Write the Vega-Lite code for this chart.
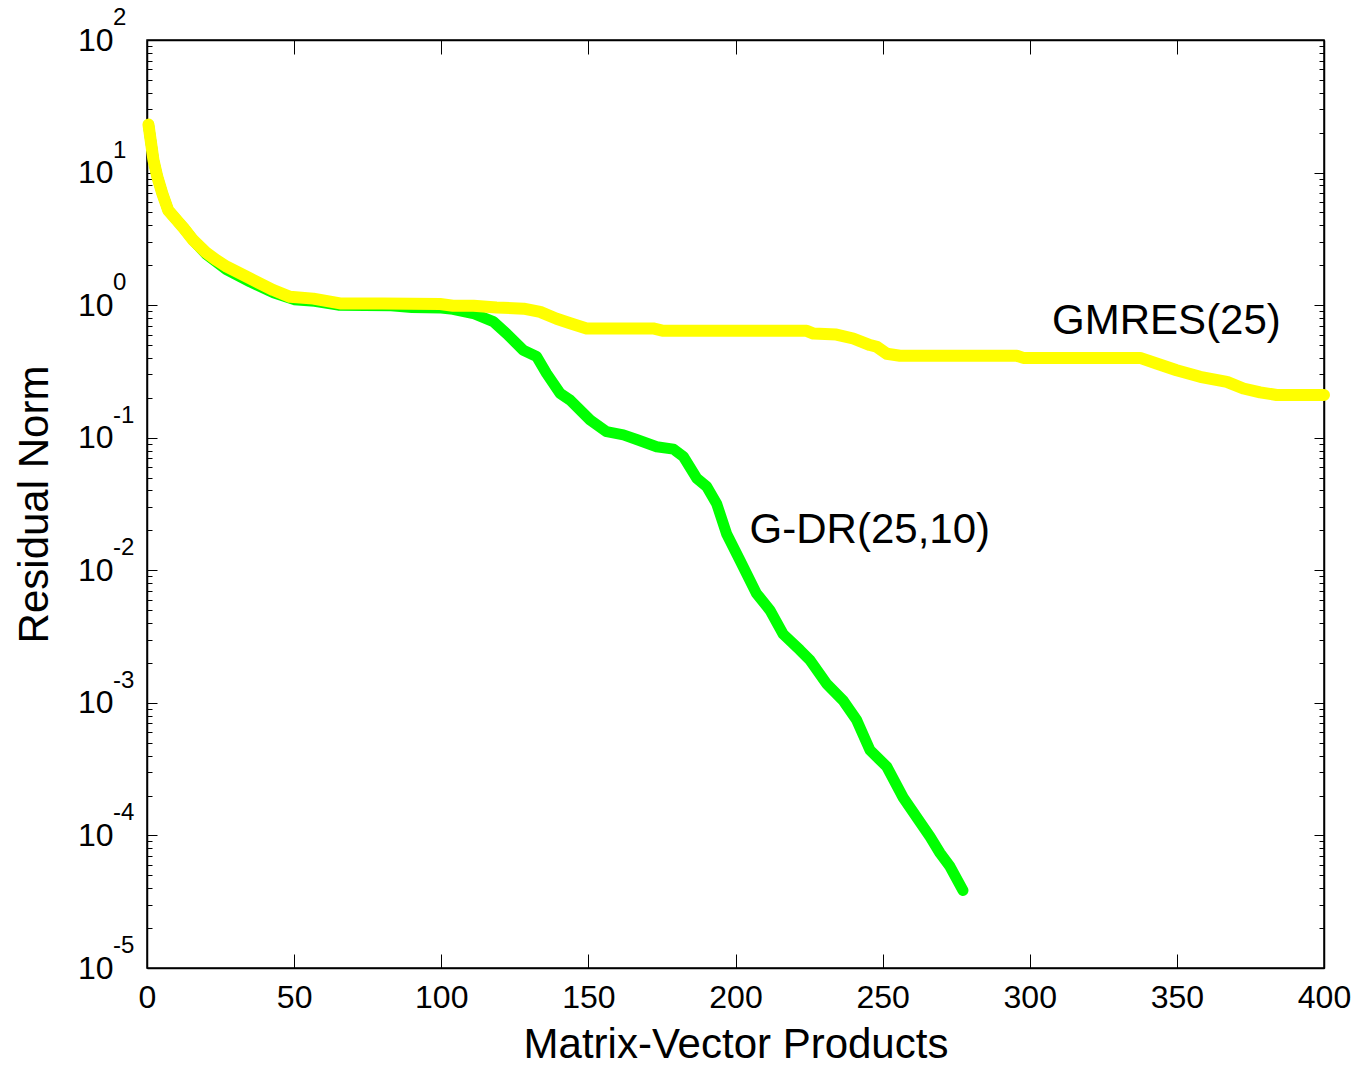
{
  "$schema": "https://vega.github.io/schema/vega-lite/v6.json",
  "width": 1177,
  "height": 928,
  "autosize": "none",
  "padding": {"left": 147, "top": 40, "right": 34, "bottom": 101},
  "background": "white",
  "config": {
    "view": {"stroke": "black", "strokeWidth": 1.5},
    "font": "Liberation Sans",
    "axis": {"grid": false, "domainColor": "black", "domainWidth": 1.5, "tickColor": "black", "tickWidth": 1, "labelColor": "black", "labelFont": "Liberation Sans", "labelFontSize": 32, "titleFont": "Liberation Sans", "titleFontSize": 42, "titleFontWeight": "normal", "titleColor": "black"}
  },
  "datasets": {
    "gmres": [
      {"mvp": 0.5, "residual": 23}, {"mvp": 1.4, "residual": 16.6}, {"mvp": 2.2, "residual": 12.4}, {"mvp": 3.5, "residual": 9.3},
      {"mvp": 5.2, "residual": 6.95}, {"mvp": 7.2, "residual": 5.2}, {"mvp": 10.1, "residual": 4.38}, {"mvp": 12.5, "residual": 3.8},
      {"mvp": 15.7, "residual": 3.09}, {"mvp": 20, "residual": 2.5}, {"mvp": 23.7, "residual": 2.18}, {"mvp": 27.1, "residual": 1.95},
      {"mvp": 35, "residual": 1.59}, {"mvp": 42.9, "residual": 1.3}, {"mvp": 48.6, "residual": 1.155}, {"mvp": 56.5, "residual": 1.12},
      {"mvp": 65.6, "residual": 1.03}, {"mvp": 80, "residual": 1.03}, {"mvp": 99.6, "residual": 1.02}, {"mvp": 104, "residual": 0.99},
      {"mvp": 111, "residual": 0.99}, {"mvp": 118.8, "residual": 0.96}, {"mvp": 128, "residual": 0.94}, {"mvp": 133.6, "residual": 0.89},
      {"mvp": 139.2, "residual": 0.79}, {"mvp": 143.8, "residual": 0.73}, {"mvp": 149.4, "residual": 0.667}, {"mvp": 172, "residual": 0.667},
      {"mvp": 175.5, "residual": 0.64}, {"mvp": 224.2, "residual": 0.64}, {"mvp": 226.5, "residual": 0.61}, {"mvp": 234.3, "residual": 0.6},
      {"mvp": 240, "residual": 0.56}, {"mvp": 245.7, "residual": 0.5}, {"mvp": 248, "residual": 0.485}, {"mvp": 251.4, "residual": 0.43},
      {"mvp": 255.9, "residual": 0.415}, {"mvp": 295.6, "residual": 0.415}, {"mvp": 297.8, "residual": 0.4}, {"mvp": 337.5, "residual": 0.4},
      {"mvp": 343.1, "residual": 0.363}, {"mvp": 349.9, "residual": 0.323}, {"mvp": 357.9, "residual": 0.288}, {"mvp": 367, "residual": 0.264},
      {"mvp": 372.6, "residual": 0.235}, {"mvp": 378.3, "residual": 0.22}, {"mvp": 383.9, "residual": 0.21}, {"mvp": 400, "residual": 0.21}
    ],
    "gdr": [
      {"mvp": 0.5, "residual": 23}, {"mvp": 1.4, "residual": 16.6}, {"mvp": 2.2, "residual": 12.4}, {"mvp": 3.5, "residual": 9.3},
      {"mvp": 5.2, "residual": 6.95}, {"mvp": 7.2, "residual": 5.2}, {"mvp": 10.1, "residual": 4.38}, {"mvp": 12.5, "residual": 3.8},
      {"mvp": 15.7, "residual": 3.09}, {"mvp": 20.3, "residual": 2.4}, {"mvp": 27, "residual": 1.85},
      {"mvp": 35, "residual": 1.5}, {"mvp": 43, "residual": 1.24}, {"mvp": 50, "residual": 1.1}, {"mvp": 57, "residual": 1.07},
      {"mvp": 65, "residual": 1.0}, {"mvp": 83, "residual": 0.99}, {"mvp": 90, "residual": 0.96}, {"mvp": 100, "residual": 0.95},
      {"mvp": 104, "residual": 0.93}, {"mvp": 110.9, "residual": 0.865}, {"mvp": 117.7, "residual": 0.75}, {"mvp": 122.2, "residual": 0.61},
      {"mvp": 127.9, "residual": 0.457}, {"mvp": 132.4, "residual": 0.41}, {"mvp": 135.8, "residual": 0.305}, {"mvp": 140.4, "residual": 0.216},
      {"mvp": 143.8, "residual": 0.192}, {"mvp": 150.6, "residual": 0.136}, {"mvp": 156.2, "residual": 0.111}, {"mvp": 161.9, "residual": 0.105},
      {"mvp": 166.4, "residual": 0.097}, {"mvp": 173.2, "residual": 0.0855}, {"mvp": 178.9, "residual": 0.082}, {"mvp": 182.3, "residual": 0.072},
      {"mvp": 186.8, "residual": 0.0495}, {"mvp": 190.2, "residual": 0.0428}, {"mvp": 193.6, "residual": 0.0318}, {"mvp": 197, "residual": 0.0188},
      {"mvp": 201.5, "residual": 0.0119}, {"mvp": 207.1, "residual": 0.0067}, {"mvp": 211.7, "residual": 0.005}, {"mvp": 216.2, "residual": 0.0033},
      {"mvp": 221.9, "residual": 0.0025}, {"mvp": 225.3, "residual": 0.0021}, {"mvp": 231, "residual": 0.00139}, {"mvp": 236.6, "residual": 0.00104},
      {"mvp": 241.2, "residual": 0.00074}, {"mvp": 245.7, "residual": 0.00044}, {"mvp": 251.4, "residual": 0.00033}, {"mvp": 257, "residual": 0.000193},
      {"mvp": 261.6, "residual": 0.000137}, {"mvp": 266.1, "residual": 0.0000978}, {"mvp": 269.5, "residual": 0.0000737}, {"mvp": 272.9, "residual": 0.0000582},
      {"mvp": 277.3, "residual": 0.0000385}
    ],
    "labels": [
      {"mvp": 307.6, "residual": 0.757, "label": "GMRES(25)"},
      {"mvp": 204.8, "residual": 0.0201, "label": "G-DR(25,10)"}
    ],
    "decades": [
      {"residual": 100, "exp": "2"}, {"residual": 10, "exp": "1"}, {"residual": 1, "exp": "0"},
      {"residual": 0.1, "exp": "-1"}, {"residual": 0.01, "exp": "-2"}, {"residual": 0.001, "exp": "-3"},
      {"residual": 0.0001, "exp": "-4"}, {"residual": 0.00001, "exp": "-5"}
    ]
  },
  "layer": [
    {
      "data": {"name": "gdr"},
      "mark": {"type": "line", "color": "#00FF00", "strokeWidth": 11, "strokeCap": "round", "strokeJoin": "round"},
      "encoding": {
        "x": {"field": "mvp", "type": "quantitative", "scale": {"domain": [0, 400], "nice": false},
          "axis": {"orient": "bottom", "values": [0, 50, 100, 150, 200, 250, 300, 350, 400], "tickSize": -14, "labelPadding": 28, "labelFlush": false, "labelBaseline": "top", "title": "Matrix-Vector Products", "titlePadding": 11}},
        "y": {"field": "residual", "type": "quantitative", "scale": {"type": "log", "domain": [0.00001, 100], "nice": false},
          "axis": {"orient": "left",
            "values": [0.00001,0.00002,0.00003,0.00004,0.00005,0.00006,0.00007,0.00008,0.00009,0.0001,0.0002,0.0003,0.0004,0.0005,0.0006,0.0007,0.0008,0.0009,0.001,0.002,0.003,0.004,0.005,0.006,0.007,0.008,0.009,0.01,0.02,0.03,0.04,0.05,0.06,0.07,0.08,0.09,0.1,0.2,0.3,0.4,0.5,0.6,0.7,0.8,0.9,1,2,3,4,5,6,7,8,9,10,20,30,40,50,60,70,80,90,100],
            "labelExpr": "abs(log(datum.value)/LN10 - round(log(datum.value)/LN10)) < 0.000001 ? '10' : ''",
            "tickSize": {"condition": {"test": "abs(log(datum.value)/LN10 - round(log(datum.value)/LN10)) < 0.000001", "value": -10}, "value": -5},
            "labelPadding": 44, "labelFlush": false, "labelOverlap": false, "labelBaseline": "middle",
            "title": "Residual Norm", "titlePadding": 21}}
      }
    },
    {
      "data": {"name": "gmres"},
      "mark": {"type": "line", "color": "#FFFF00", "strokeWidth": 12, "strokeCap": "round", "strokeJoin": "round"},
      "encoding": {
        "x": {"field": "mvp", "type": "quantitative",
          "axis": {"orient": "top", "values": [0, 50, 100, 150, 200, 250, 300, 350, 400], "tickSize": -14, "labels": false, "title": null}},
        "y": {"field": "residual", "type": "quantitative",
          "axis": {"orient": "right",
            "values": [0.00001,0.00002,0.00003,0.00004,0.00005,0.00006,0.00007,0.00008,0.00009,0.0001,0.0002,0.0003,0.0004,0.0005,0.0006,0.0007,0.0008,0.0009,0.001,0.002,0.003,0.004,0.005,0.006,0.007,0.008,0.009,0.01,0.02,0.03,0.04,0.05,0.06,0.07,0.08,0.09,0.1,0.2,0.3,0.4,0.5,0.6,0.7,0.8,0.9,1,2,3,4,5,6,7,8,9,10,20,30,40,50,60,70,80,90,100],
            "tickSize": {"condition": {"test": "abs(log(datum.value)/LN10 - round(log(datum.value)/LN10)) < 0.000001", "value": -10}, "value": -5},
            "labels": false, "title": null}}
      }
    },
    {
      "data": {"name": "labels"},
      "mark": {"type": "text", "align": "left", "baseline": "middle", "fontSize": 42, "font": "Liberation Sans", "color": "black"},
      "encoding": {
        "x": {"field": "mvp", "type": "quantitative", "axis": null},
        "y": {"field": "residual", "type": "quantitative", "axis": null},
        "text": {"field": "label"}
      }
    },
    {
      "data": {"name": "decades"},
      "mark": {"type": "text", "align": "left", "baseline": "middle", "dx": -34, "dy": -22, "fontSize": 24, "font": "Liberation Sans", "color": "black"},
      "encoding": {
        "x": {"datum": 0, "type": "quantitative", "axis": null},
        "y": {"field": "residual", "type": "quantitative", "axis": null},
        "text": {"field": "exp"}
      }
    }
  ],
  "resolve": {"axis": {"x": "independent", "y": "independent"}}
}
